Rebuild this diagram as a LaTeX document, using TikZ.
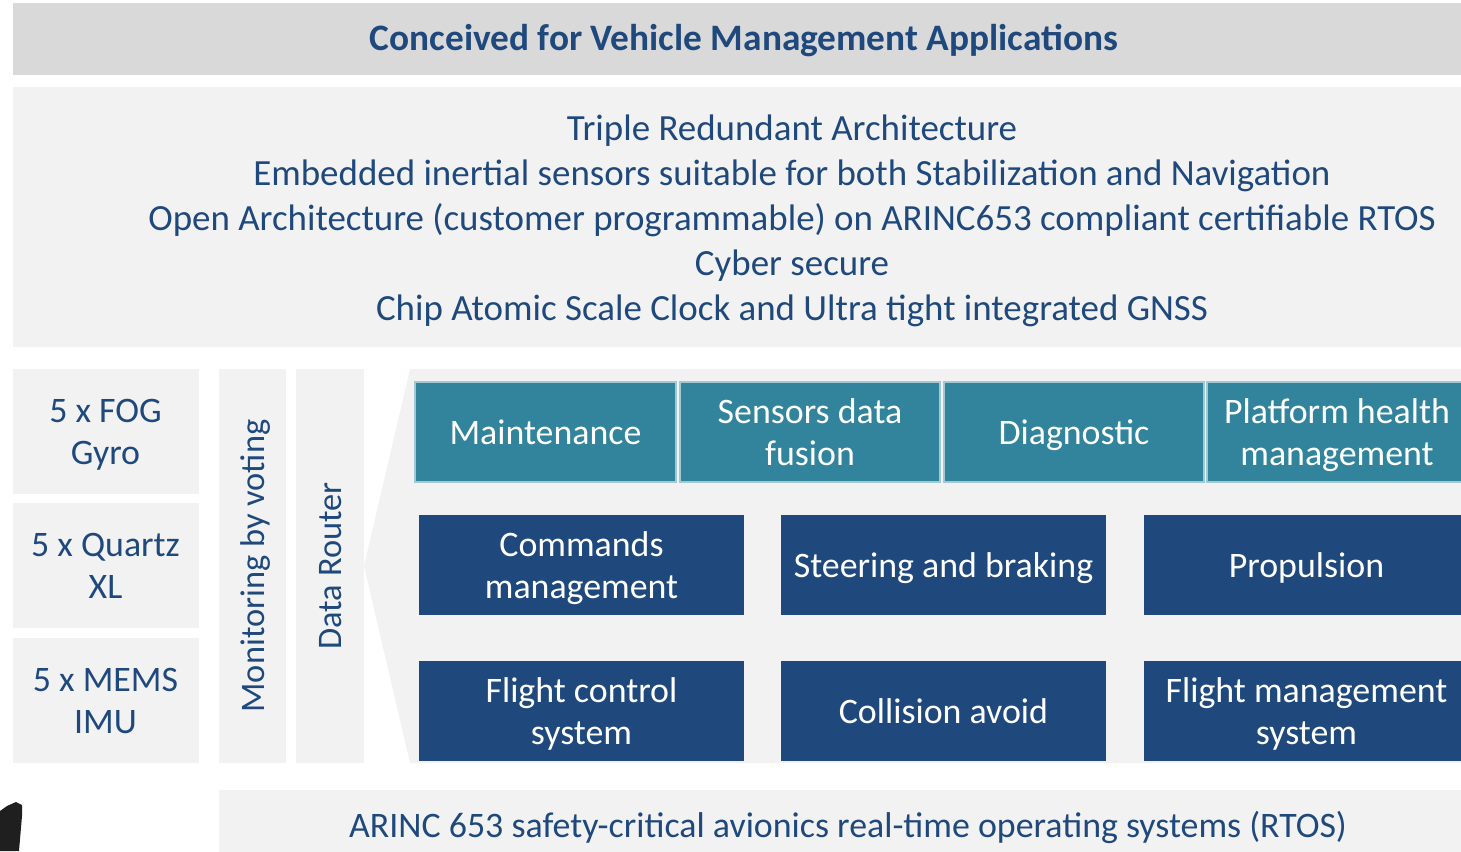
\documentclass[tikz,border=0pt]{standalone}
\usepackage{fontspec}
\setmainfont{Carlito}
\definecolor{tblue}{HTML}{1F497D}
\definecolor{tealc}{HTML}{31849B}
\definecolor{navyc}{HTML}{1F497D}
\definecolor{lgray}{HTML}{F2F2F2}
\definecolor{mgray}{HTML}{D9D9D9}
\tikzset{
  bx/.style={inner sep=0pt, outer sep=0pt, align=center, text depth=0pt},
  graybox/.style={bx, fill=lgray, text=tblue},
  tealbox/.style={bx, fill=tealc, draw=white!55!tealc, line width=1.2pt, text=white, font=\btxt},
  navybox/.style={bx, fill=navyc, text=white, font=\btxt},
  sz/.style 2 args={minimum width=#1*0.75pt, minimum height=#2*0.75pt},
  vtext/.style={bx, text=tblue, font=\fontsize{25.8}{31}\selectfont, rotate=90},
}
\newcommand{\btxt}{\fontsize{26.9}{31.5}\selectfont}
\begin{document}
\begin{tikzpicture}[x=0.75pt,y=-0.75pt]
\useasboundingbox (0,0) rectangle (1461,851);
% top banner
\node[bx, fill=mgray, sz={1448}{72}] (banner) at (737,39) {};
\node[bx, text=tblue, font=\fontsize{28}{33}\selectfont\bfseries] (title) at (744,37) {Conceived for Vehicle Management Applications};
% features panel
\node[graybox, sz={1448}{260}] (feat) at (737,217) {};
\node[bx, text=tblue, font=\fontsize{27.7}{33.75}\selectfont] (feattext) at (792,217.5) {Triple Redundant Architecture\\
Embedded inertial sensors suitable for both Stabilization and Navigation\\
Open Architecture (customer programmable) on ARINC653 compliant certifiable RTOS\\
Cyber secure\\
Chip Atomic Scale Clock and Ultra tight integrated GNSS};
% sensors
\node[graybox, font=\btxt, sz={186}{125}] (fog) at (105.5,431.5) {5 x FOG\\Gyro};
\node[graybox, font=\btxt, sz={186}{125}] (quartz) at (105.5,565.5) {5 x Quartz\\XL};
\node[graybox, font=\btxt, sz={186}{125}] (mems) at (105.5,700.5) {5 x MEMS\\IMU};
% monitoring and router
\node[graybox, sz={67}{394}] (mon) at (252.5,566) {};
\node[vtext] (montext) at (253,566) {Monitoring by voting};
\node[graybox, sz={68}{394}] (router) at (330,566) {};
\node[vtext] (routertext) at (330,566) {Data Router};
% application area
\fill[lgray] (410,369) -- (1461,369) -- (1461,763) -- (410,763) -- (364,566) -- cycle;
\node[tealbox, sz={261}{100}] (maint) at (545.5,432) {Maintenance};
\node[tealbox, sz={260}{100}] (fusion) at (810,432) {Sensors data\\fusion};
\node[tealbox, sz={260}{100}] (diag) at (1074,432) {Diagnostic};
\node[tealbox, sz={260}{100}] (health) at (1337,432) {Platform health\\management};
\node[navybox, sz={325}{100}] (cmd) at (581.5,565) {Commands\\management};
\node[navybox, sz={325}{100}] (steer) at (943.5,565) {Steering and braking};
\node[navybox, sz={325}{100}] (prop) at (1306.5,565) {Propulsion};
\node[navybox, sz={325}{100}] (fcs) at (581.5,711) {Flight control\\system};
\node[navybox, sz={325}{100}] (coll) at (943.5,711) {Collision avoid};
\node[navybox, sz={325}{100}] (fms) at (1306.5,711) {Flight management\\system};
% RTOS bar
\node[graybox, font=\btxt, sz={1258}{68}] (rtos) at (848,824) {ARINC 653 safety-critical avionics real-time operating systems (RTOS)};
% cropped dark object bottom left
\fill[black!88] (0,811) -- (7,806) -- (16,802) -- (22,805) -- (22,816) -- (19,851) -- (0,851) -- cycle;
\end{tikzpicture}
\end{document}
